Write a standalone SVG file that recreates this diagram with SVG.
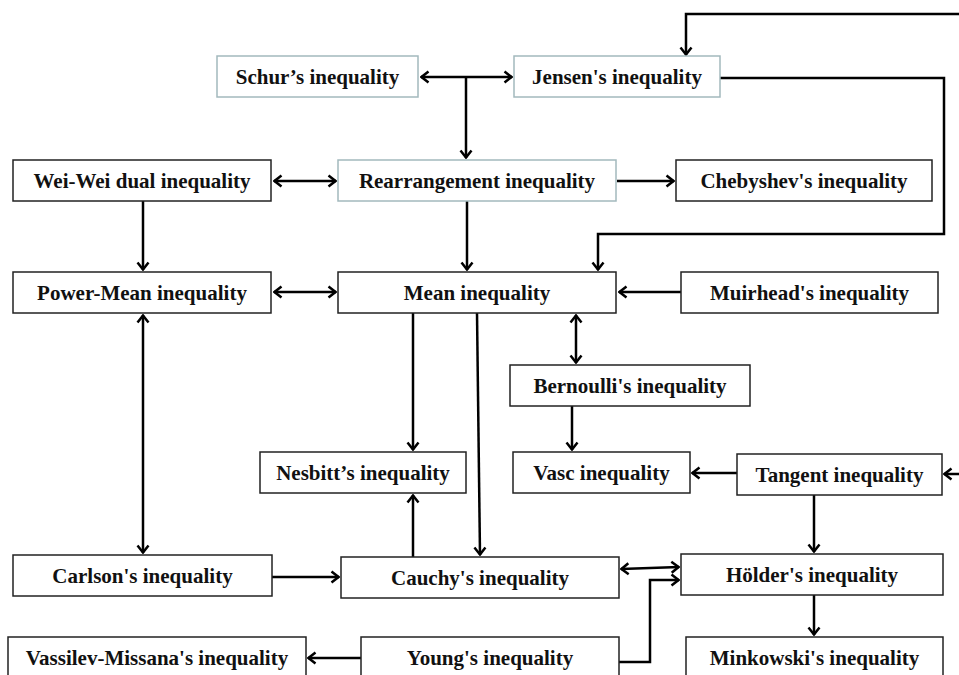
<svg xmlns="http://www.w3.org/2000/svg" width="959" height="675" viewBox="0 0 959 675">
<style>
.box{fill:#ffffff;stroke:#222222;stroke-width:1.5}
.lt{fill:#ffffff;stroke:#a3b9bd;stroke-width:1.5}
.t{font-family:"Liberation Serif","Times New Roman",serif;font-weight:bold;font-size:21px;fill:#111111;text-anchor:middle}
.c{fill:none;stroke:#000000;stroke-width:2.5}
</style>
<defs>
<marker id="ah" markerUnits="userSpaceOnUse" viewBox="0 0 10 14" refX="9" refY="7" markerWidth="10" markerHeight="14" orient="auto-start-reverse">
<path d="M1.5,1.5 L8.5,7 L1.5,12.5" fill="none" stroke="#000000" stroke-width="2.5"/>
</marker>
</defs>
<rect width="959" height="675" fill="#ffffff"/>
<g id="connectors">
<line class="c" x1="421" y1="77" x2="512" y2="77" marker-start="url(#ah)" marker-end="url(#ah)"/>
<line class="c" x1="466" y1="77" x2="466" y2="158" marker-end="url(#ah)"/>
<path class="c" d="M959,14 H686 V55" marker-end="url(#ah)"/>
<path class="c" d="M720,78 H944 V234 H598 V270" marker-end="url(#ah)"/>
<line class="c" x1="274" y1="181" x2="336" y2="181" marker-start="url(#ah)" marker-end="url(#ah)"/>
<line class="c" x1="617" y1="181" x2="674" y2="181" marker-end="url(#ah)"/>
<line class="c" x1="143" y1="201" x2="143" y2="270" marker-end="url(#ah)"/>
<line class="c" x1="467" y1="201" x2="467" y2="270" marker-end="url(#ah)"/>
<line class="c" x1="274" y1="292" x2="336" y2="292" marker-start="url(#ah)" marker-end="url(#ah)"/>
<line class="c" x1="681" y1="292" x2="619" y2="292" marker-end="url(#ah)"/>
<line class="c" x1="576" y1="315" x2="576" y2="363" marker-start="url(#ah)" marker-end="url(#ah)"/>
<line class="c" x1="572" y1="406" x2="572" y2="450" marker-end="url(#ah)"/>
<line class="c" x1="737" y1="473" x2="692" y2="473" marker-end="url(#ah)"/>
<line class="c" x1="959" y1="474" x2="944" y2="474" marker-end="url(#ah)"/>
<line class="c" x1="814" y1="495" x2="814" y2="552" marker-end="url(#ah)"/>
<line class="c" x1="814" y1="595" x2="814" y2="635" marker-end="url(#ah)"/>
<line class="c" x1="413" y1="313" x2="413" y2="450" marker-end="url(#ah)"/>
<line class="c" x1="477" y1="313" x2="480" y2="555" marker-end="url(#ah)"/>
<line class="c" x1="413" y1="557" x2="413" y2="495" marker-end="url(#ah)"/>
<line class="c" x1="143" y1="315" x2="143" y2="553" marker-start="url(#ah)" marker-end="url(#ah)"/>
<line class="c" x1="272" y1="577" x2="339" y2="577" marker-end="url(#ah)"/>
<line class="c" x1="621" y1="569" x2="679" y2="567" marker-start="url(#ah)" marker-end="url(#ah)"/>
<path class="c" d="M619,662 H650 V580 H679" marker-end="url(#ah)"/>
<line class="c" x1="361" y1="658" x2="308" y2="658" marker-end="url(#ah)"/>
</g>
<g id="schur"><rect class="lt" x="217" y="56" width="201" height="41"/><text class="t" x="317.5" y="84">Schur’s inequality</text></g>
<g id="jensen"><rect class="lt" x="514" y="56" width="206" height="41"/><text class="t" x="617" y="84">Jensen's inequality</text></g>
<g id="weiwei"><rect class="box" x="13" y="160" width="258" height="41"/><text class="t" x="142" y="188">Wei-Wei dual inequality</text></g>
<g id="rearrangement"><rect class="lt" x="338" y="160" width="278" height="41"/><text class="t" x="477" y="188">Rearrangement inequality</text></g>
<g id="chebyshev"><rect class="box" x="676" y="160" width="256" height="41"/><text class="t" x="804" y="188">Chebyshev's inequality</text></g>
<g id="powermean"><rect class="box" x="13" y="272" width="258" height="41"/><text class="t" x="142" y="300">Power-Mean inequality</text></g>
<g id="mean"><rect class="box" x="338" y="272" width="278" height="41"/><text class="t" x="477" y="300">Mean inequality</text></g>
<g id="muirhead"><rect class="box" x="681" y="272" width="257" height="41"/><text class="t" x="809.5" y="300">Muirhead's inequality</text></g>
<g id="bernoulli"><rect class="box" x="510" y="365" width="240" height="41"/><text class="t" x="630" y="393">Bernoulli's inequality</text></g>
<g id="vasc"><rect class="box" x="513" y="452" width="177" height="41"/><text class="t" x="601.5" y="480">Vasc inequality</text></g>
<g id="tangent"><rect class="box" x="737" y="454" width="205" height="41"/><text class="t" x="839.5" y="482">Tangent inequality</text></g>
<g id="nesbitt"><rect class="box" x="260" y="452" width="206" height="41"/><text class="t" x="363" y="480">Nesbitt’s inequality</text></g>
<g id="carlson"><rect class="box" x="13" y="555" width="259" height="41"/><text class="t" x="142.5" y="583">Carlson's inequality</text></g>
<g id="cauchy"><rect class="box" x="341" y="557" width="278" height="41"/><text class="t" x="480" y="585">Cauchy's inequality</text></g>
<g id="holder"><rect class="box" x="681" y="554" width="262" height="41"/><text class="t" x="812" y="582">Hölder's inequality</text></g>
<g id="vassilev"><rect class="box" x="8" y="637" width="298" height="50"/><text class="t" x="157" y="665">Vassilev-Missana's inequality</text></g>
<g id="young"><rect class="box" x="361" y="637" width="258" height="50"/><text class="t" x="490" y="665">Young's inequality</text></g>
<g id="minkowski"><rect class="box" x="686" y="637" width="257" height="50"/><text class="t" x="814.5" y="665">Minkowski's inequality</text></g>
</svg>
